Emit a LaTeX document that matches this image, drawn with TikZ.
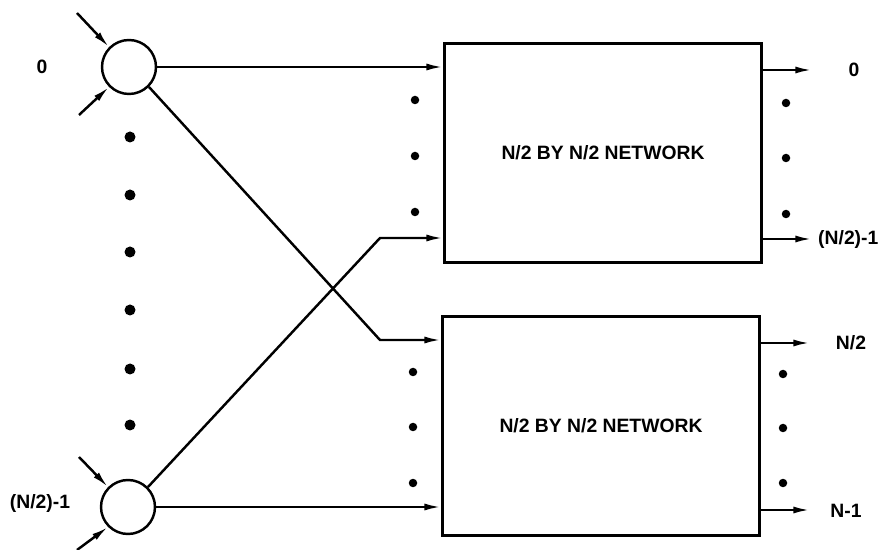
\documentclass[tikz,border=0pt]{standalone}
\usepackage{fontspec}
\setmainfont{Liberation Sans}
\usetikzlibrary{arrows.meta}

\begin{document}
\begin{tikzpicture}[>={Latex[length=9.5pt,width=4pt]},x=0.02cm,y=-0.02cm,line width=1.4pt,
  font=\fontsize{11}{13}\selectfont\bfseries,
  sw/.style={draw,circle,minimum size=1.08cm,inner sep=0pt},
  netbox/.style={draw,line width=1.6pt,minimum width=6.34cm,minimum height=4.38cm,inner sep=0pt}]
  \useasboundingbox (0,0) rectangle (886,550);
  % 2x2 switches and the two half networks
  \node[sw] (sw0) at (129,67) {};
  \node[sw] (sw1) at (128,507) {};
  \node[netbox] (net0) at (603,153) {N/2 BY N/2 NETWORK};
  \node[netbox] (net1) at (601,426) {N/2 BY N/2 NETWORK};
  \node (in0) at (42,67) {0};
  \node (in1) at (40,504) {(N/2)-1};
  % inputs into the switches
  \coordinate (a0) at (77,13);
  \coordinate (a1) at (79,115);
  \coordinate (a2) at (79,457);
  \coordinate (a3) at (77,550);
  \draw[->] (a0) -- (sw0.135);
  \draw[->] (a1) -- (sw0.225);
  \draw[->] (a2) -- (sw1.135);
  \draw[->] (a3) -- (sw1.225);
  % switch outputs: straight and crossed
  \coordinate (b0) at (380,238);
  \coordinate (b1) at (380,340);
  \draw[->] (sw0.east) -- (sw0.east -| net0.west);
  \draw[->] (sw1.east) -- (sw1.east -| net1.west);
  \draw[->] (sw0.-45) -- (b1) -- (b1 -| net1.west);
  \draw[->] (sw1.45) -- (b0) -- (b0 -| net0.west);
  % network outputs
  \coordinate (o0) at (812,70);
  \coordinate (o1) at (812,239);
  \coordinate (o2) at (810,343);
  \coordinate (o3) at (810,510);
  \draw[->] (o0 -| net0.east) -- (o0);
  \draw[->] (o1 -| net0.east) -- (o1);
  \draw[->] (o2 -| net1.east) -- (o2);
  \draw[->] (o3 -| net1.east) -- (o3);
  \node (out0) at (854,70) {0};
  \node[anchor=west,inner sep=0pt] (out1) at (817,240) {(N/2)-1};
  \node (out2) at (851,343) {N/2};
  \node (out3) at (846,511) {N-1};
  % ellipsis dots
  \foreach \y in {137,195,252,310,369,425}
    \fill (130,\y) circle[radius=0.11cm];
  \foreach \y in {100,156,212}
    \fill (415,\y) circle[radius=0.085cm];
  \foreach \y in {372,427,483}
    \fill (413,\y) circle[radius=0.085cm];
  \foreach \y in {103,158,214}
    \fill (786,\y) circle[radius=0.085cm];
  \foreach \y in {374,428,483}
    \fill (783,\y) circle[radius=0.085cm];
\end{tikzpicture}
\end{document}
